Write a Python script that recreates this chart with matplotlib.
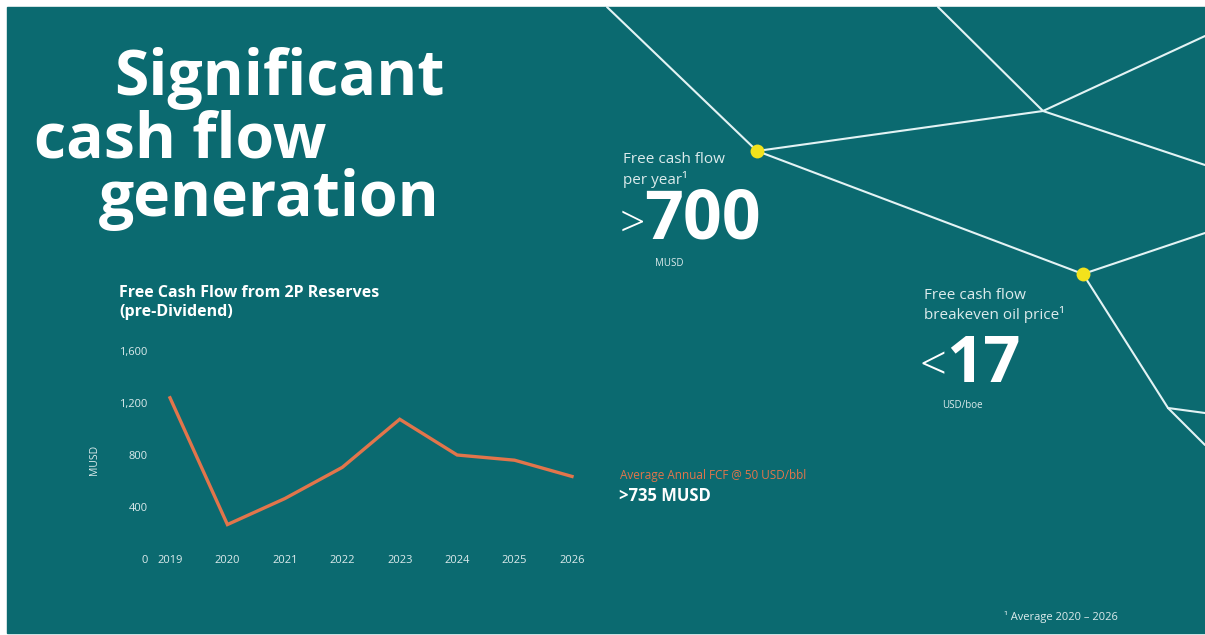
import matplotlib
matplotlib.use("Agg")
import matplotlib.pyplot as plt
from matplotlib.patches import Rectangle

# chart data
years = [2019, 2020, 2021, 2022, 2023, 2024, 2025, 2026]
fcf = [1240, 265, 465, 705, 1075, 800, 760, 635]
ytick_vals = [0, 400, 800, 1200, 1600]
ytick_labels = ["0", "400", "800", "1,200", "1,600"]

W, H = 1205, 635
teal = "#0b6a70"
orange = "#e2754b"
soft = "#dcebec"
font = "Open Sans"


def fx(px):
    return px / W


def fy(py):
    return 1 - py / H


fig = plt.figure(figsize=(W / 100, H / 100), dpi=100)
fig.patch.set_facecolor("white")

# background panel and decoration in pixel space
bg = fig.add_axes([0, 0, 1, 1])
bg.set_xlim(0, W)
bg.set_ylim(H, 0)
bg.axis("off")
bg.add_patch(Rectangle((7, 7), W - 7, H - 9, color=teal, zorder=0))

dot1 = (757, 151)
dot2 = (1083, 274)
hub = (1043, 111)
bend = (1168, 408)
segments = [
    [(607, 7), dot1],
    [dot1, hub],
    [(938, 7), hub],
    [hub, (1205, 36)],
    [hub, (1205, 165)],
    [dot1, dot2],
    [dot2, (1205, 233)],
    [dot2, bend],
    [bend, (1205, 413)],
    [bend, (1205, 445)],
]
for seg in segments:
    bg.plot([seg[0][0], seg[1][0]], [seg[0][1], seg[1][1]],
            color="#e3f3f4", lw=1.5, solid_capstyle="round", zorder=1)
bg.plot([dot1[0], dot2[0]], [dot1[1], dot2[1]], "o", color="#f3e21c",
        ms=10, mec="none", zorder=2)

# big heading
big = dict(color="white", fontweight="bold", family=font, fontsize=45,
           va="baseline", ha="left")
fig.text(fx(114), fy(95), "Significant", **big)
fig.text(fx(34), fy(158), "cash flow", **big)
fig.text(fx(99), fy(216), "generation", **big)

# key figures
small = dict(color=soft, family=font, fontsize=11, va="baseline", ha="left")
fig.text(fx(623), fy(163), "Free cash flow", **small)
fig.text(fx(623), fy(184), "per year¹", **small)
fig.text(fx(620), fy(237), ">", color="white", family=font, fontweight="light",
         fontsize=32, va="baseline", ha="left")
fig.text(fx(644), fy(239), "700", color="white", family=font, fontweight="bold",
         fontsize=49, va="baseline", ha="left")
fig.text(fx(655), fy(264), "MUSD", color=soft, family=font, fontsize=7,
         va="center", ha="left")

fig.text(fx(924), fy(299), "Free cash flow", **small)
fig.text(fx(924), fy(319), "breakeven oil price¹", **small)
fig.text(fx(920), fy(380), "<", color="white", family=font, fontweight="light",
         fontsize=34, va="baseline", ha="left")
fig.text(fx(946), fy(382), "17", color="white", family=font, fontweight="bold",
         fontsize=47, va="baseline", ha="left")
fig.text(fx(942), fy(405), "USD/boe", color=soft, family=font, fontsize=7,
         va="center", ha="left")

fig.text(fx(1004), fy(617), "¹ Average 2020 – 2026", color=soft, family=font,
         fontsize=8, va="center", ha="left")

# chart title
fig.text(fx(119), fy(297), "Free Cash Flow from 2P Reserves", color="white",
         family=font, fontweight="bold", fontsize=11.5, va="baseline")
fig.text(fx(119), fy(316), "(pre-Dividend)", color="white",
         family=font, fontweight="bold", fontsize=11.5, va="baseline")

# line chart
left, right, top, bottom = 153, 590, 345, 562
ax = fig.add_axes([fx(left), fy(bottom), fx(right - left), (bottom - top) / H])
ax.patch.set_alpha(0)
ax.plot(years, fcf, color=orange, lw=2.4, solid_joinstyle="miter")
ax.set_xlim(2019 - 17 / 57.43, 2026 + 18 / 57.43)
ax.set_ylim(-23, 1646)
ax.set_xticks(years)
ax.set_xticklabels([str(y) for y in years])
ax.set_yticks(ytick_vals)
ax.set_yticklabels(ytick_labels)
for s in ax.spines.values():
    s.set_visible(False)
ax.tick_params(axis="both", length=0, labelsize=8, labelcolor=soft)
ax.tick_params(axis="x", pad=-5)
ax.tick_params(axis="y", pad=4)
for lab in ax.get_xticklabels() + ax.get_yticklabels():
    lab.set_family(font)

fig.text(fx(95), fy(460), "MUSD", color=soft, family=font, fontsize=7.5,
         rotation=90, va="center", ha="center")

fig.text(fx(620), fy(476), "Average Annual FCF @ 50 USD/bbl", color=orange,
         family=font, fontsize=8.5, va="center", ha="left")
fig.text(fx(619), fy(496), ">735 MUSD", color="white", family=font,
         fontweight="bold", fontsize=12, va="center", ha="left")

fig.savefig("out.png", dpi=100, facecolor=fig.get_facecolor())
